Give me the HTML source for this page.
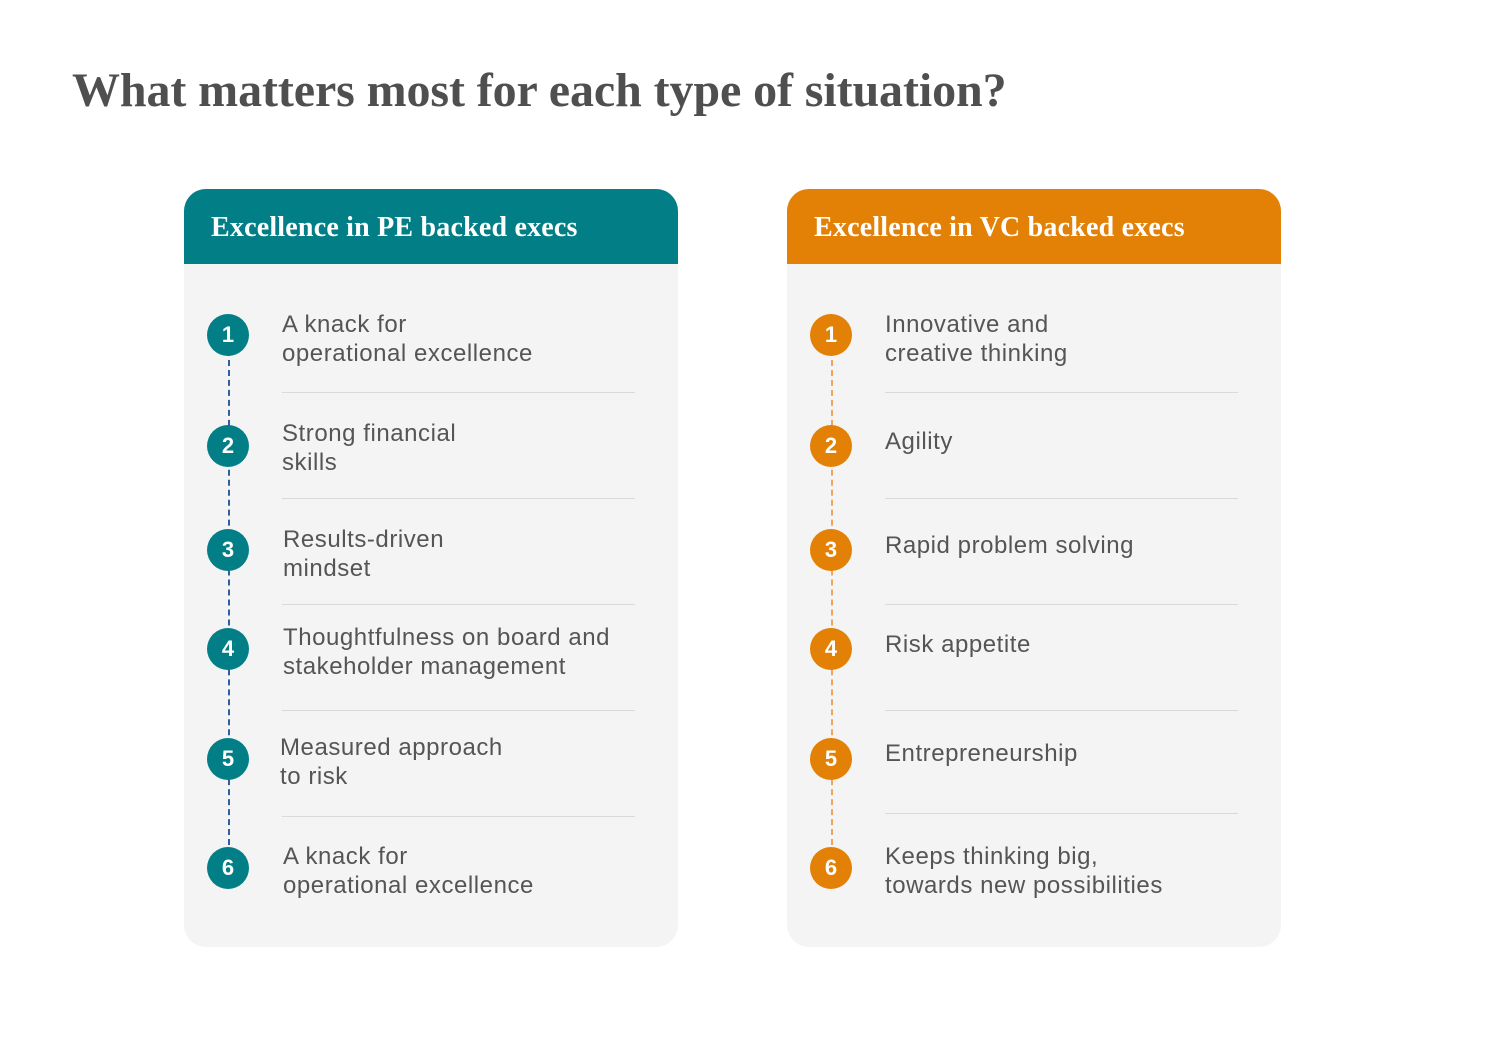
<!DOCTYPE html>
<html><head><style>
body{margin:0;width:1500px;height:1037px;background:#fff;position:relative;overflow:hidden;font-family:"Liberation Sans",sans-serif}
.t{position:absolute;left:72px;top:63px;font-family:"Liberation Serif",serif;font-weight:bold;font-size:48px;color:#4f4f4f;letter-spacing:-0.1px}
.p{position:absolute;top:189px;width:494px;height:758px;background:#f4f4f4;border-radius:22px;overflow:hidden}
.h{height:75px;color:#fff;font-family:"Liberation Serif",serif;font-weight:bold;font-size:28px;line-height:78px;padding-left:27px;letter-spacing:0.2px}
.c{position:absolute;width:42px;height:42px;border-radius:50%;color:#fff;font-weight:bold;font-size:22px;line-height:42px;text-align:center}
.x{position:absolute;font-size:24px;line-height:29px;color:#555;white-space:nowrap;letter-spacing:0.55px}
.d{position:absolute;height:1px;background:#ddd9d6;width:353px}
.v{position:absolute;width:0;border-left-width:2px;border-left-style:dashed}
</style></head><body>
<div class="t">What matters most for each type of situation?</div>
<div class="p" style="left:184px"><div class="h" style="background:#027f86">Excellence in PE backed execs</div></div>
<div class="p" style="left:787px"><div class="h" style="background:#e38107">Excellence in VC backed execs</div></div>
<div class="v" style="left:228px;top:340px;height:525px;border-left-color:#2f5f9e"></div>
<div class="v" style="left:831px;top:340px;height:525px;border-left-color:#f0a45a"></div>

<div class="c" style="left:207px;top:314px;background:#027f86">1</div>
<div class="c" style="left:207px;top:425px;background:#027f86">2</div>
<div class="c" style="left:207px;top:529px;background:#027f86">3</div>
<div class="c" style="left:207px;top:628px;background:#027f86">4</div>
<div class="c" style="left:207px;top:738px;background:#027f86">5</div>
<div class="c" style="left:207px;top:847px;background:#027f86">6</div>

<div class="c" style="left:810px;top:314px;background:#e38107">1</div>
<div class="c" style="left:810px;top:425px;background:#e38107">2</div>
<div class="c" style="left:810px;top:529px;background:#e38107">3</div>
<div class="c" style="left:810px;top:628px;background:#e38107">4</div>
<div class="c" style="left:810px;top:738px;background:#e38107">5</div>
<div class="c" style="left:810px;top:847px;background:#e38107">6</div>

<div class="x" style="left:282px;top:310px">A knack for<br>operational excellence</div>
<div class="x" style="left:282px;top:419px">Strong financial<br>skills</div>
<div class="x" style="left:283px;top:525px">Results-driven<br>mindset</div>
<div class="x" style="left:283px;top:623px">Thoughtfulness on board and<br>stakeholder management</div>
<div class="x" style="left:280px;top:733px">Measured approach<br>to risk</div>
<div class="x" style="left:283px;top:842px">A knack for<br>operational excellence</div>

<div class="x" style="left:885px;top:310px">Innovative and<br>creative thinking</div>
<div class="x" style="left:885px;top:427px">Agility</div>
<div class="x" style="left:885px;top:531px">Rapid problem solving</div>
<div class="x" style="left:885px;top:630px">Risk appetite</div>
<div class="x" style="left:885px;top:739px">Entrepreneurship</div>
<div class="x" style="left:885px;top:842px">Keeps thinking big,<br>towards new possibilities</div>

<div class="d" style="left:282px;top:392px"></div>
<div class="d" style="left:282px;top:498px"></div>
<div class="d" style="left:282px;top:604px"></div>
<div class="d" style="left:282px;top:710px"></div>
<div class="d" style="left:282px;top:816px"></div>
<div class="d" style="left:885px;top:392px"></div>
<div class="d" style="left:885px;top:498px"></div>
<div class="d" style="left:885px;top:604px"></div>
<div class="d" style="left:885px;top:710px"></div>
<div class="d" style="left:885px;top:813px"></div>
</body></html>
